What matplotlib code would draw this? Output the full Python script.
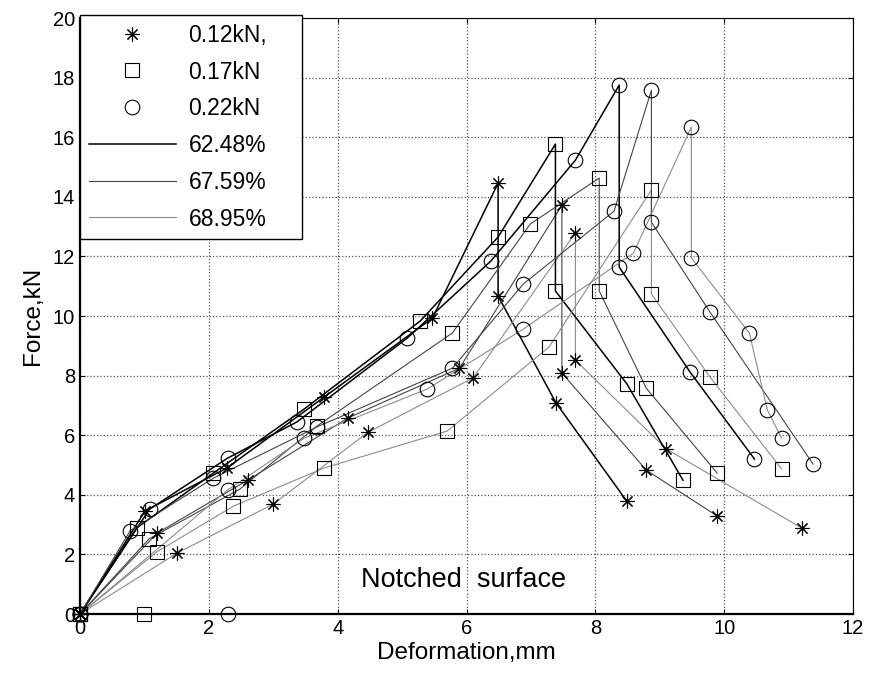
import matplotlib.pyplot as plt
from matplotlib.lines import Line2D

plt.rcParams['font.family'] = ['Liberation Sans', 'DejaVu Sans']

# 0.12kN (asterisk) series
x_012_a = [0, 1.01, 2.28, 3.79, 5.47, 6.49, 6.49, 7.39, 8.49]
y_012_a = [0, 3.46, 4.90, 7.28, 9.93, 14.46, 10.67, 7.08, 3.78]
x_012_b = [0, 1.20, 2.61, 4.16, 5.89, 7.48, 7.48, 8.79, 9.89]
y_012_b = [0, 2.72, 4.50, 6.58, 8.25, 13.72, 8.09, 4.83, 3.29]
x_012_c = [0, 1.51, 3.00, 4.47, 6.10, 7.69, 7.69, 9.10, 11.20]
y_012_c = [0, 2.05, 3.69, 6.10, 7.92, 12.79, 8.52, 5.54, 2.89]

# 0.17kN (square) series
x_017_a = [0, 0.88, 2.07, 3.48, 5.28, 6.49, 7.38, 7.38, 8.49, 9.36]
y_017_a = [0, 2.89, 4.73, 6.88, 9.83, 12.65, 15.77, 10.84, 7.72, 4.49]
x_017_b = [0, 1.07, 2.48, 3.68, 5.78, 6.99, 8.06, 8.06, 8.79, 9.89]
y_017_b = [0, 2.52, 4.19, 6.31, 9.43, 13.09, 14.63, 10.84, 7.58, 4.73]
x_017_c = [0, 1.19, 2.38, 3.79, 5.70, 7.28, 8.87, 8.87, 9.78, 10.89]
y_017_c = [0, 2.08, 3.62, 4.90, 6.14, 8.96, 14.23, 10.74, 7.95, 4.87]

# 0.22kN (circle) series
x_022_a = [0, 1.08, 2.29, 3.37, 5.08, 6.38, 7.69, 8.37, 8.37, 9.47, 10.47]
y_022_a = [0, 3.52, 5.23, 6.45, 9.26, 11.85, 15.23, 17.75, 11.64, 8.12, 5.20]
x_022_b = [0, 0.78, 2.07, 3.68, 5.78, 6.88, 8.29, 8.87, 8.87, 9.78, 11.38]
y_022_b = [0, 2.80, 4.56, 6.28, 8.25, 11.07, 13.52, 17.58, 13.15, 10.13, 5.03]
x_022_c = [0, 2.29, 3.48, 5.39, 6.88, 8.59, 9.49, 9.49, 10.39, 10.67, 10.89]
y_022_c = [0, 4.16, 5.90, 7.55, 9.56, 12.11, 16.34, 11.95, 9.43, 6.85, 5.91]

# stray points on the x axis
x_stray_sq, y_stray_sq = [1.0], [0]
x_stray_ci, y_stray_ci = [2.29], [0]

labels = ['0.12kN,', '0.17kN', '0.22kN', '62.48%', '67.59%', '68.95%']

star = (8, 2, 0)
c_a, c_b, c_c = 'black', '#444444', '#8c8c8c'
lw_a, lw_b, lw_c = 1.1, 0.8, 0.8

fig = plt.figure(figsize=(8.7, 6.83), dpi=100)
ax = fig.add_axes([0.092, 0.101, 0.8885, 0.8726])

def serie(x, y, marker, ms, color, lw):
    ax.plot(x, y, '-', color=color, lw=lw, zorder=2, clip_on=False)
    ax.plot(x, y, linestyle='none', marker=marker, ms=ms, mfc='none',
            mec='black', mew=0.8, zorder=3, clip_on=False)

serie(x_012_a, y_012_a, star, 10, c_a, lw_a)
serie(x_012_b, y_012_b, star, 10, c_b, lw_b)
serie(x_012_c, y_012_c, star, 10, c_c, lw_c)
serie(x_017_a, y_017_a, 's', 10, c_a, lw_a)
serie(x_017_b, y_017_b, 's', 10, c_b, lw_b)
serie(x_017_c, y_017_c, 's', 10, c_c, lw_c)
serie(x_022_a, y_022_a, 'o', 10.5, c_a, lw_a)
serie(x_022_b, y_022_b, 'o', 10.5, c_b, lw_b)
serie(x_022_c, y_022_c, 'o', 10.5, c_c, lw_c)
ax.plot(x_stray_sq, y_stray_sq, 's', ms=10, mfc='none', mec='black', mew=0.8, clip_on=False)
ax.plot(x_stray_ci, y_stray_ci, 'o', ms=10.5, mfc='none', mec='black', mew=0.8, clip_on=False)

ax.text(4.36, 0.9, 'Notched  surface', fontsize=19.5)

ax.set_xlim(0, 12)
ax.set_ylim(0, 20)
ax.set_xticks(range(0, 13, 2))
ax.set_yticks(range(0, 21, 2))
ax.grid(True, linestyle=':', color='#555555', lw=0.9)
ax.tick_params(direction='in', length=3.5, width=0.8, labelsize=14.5,
               top=True, right=True)
for s in ax.spines.values():
    s.set_linewidth(0.8)
ax.spines['left'].set_linewidth(1.6)
ax.spines['bottom'].set_linewidth(1.6)

ax.set_xlabel('Deformation,mm', fontsize=17.5, labelpad=3)
ax.set_ylabel('Force,kN', fontsize=17.5, labelpad=6)

handles = [
    Line2D([], [], ls='none', marker=star, ms=10, mec='black', mew=0.8),
    Line2D([], [], ls='none', marker='s', ms=10, mfc='none', mec='black', mew=0.8),
    Line2D([], [], ls='none', marker='o', ms=10.5, mfc='none', mec='black', mew=0.8),
    Line2D([], [], color=c_a, lw=lw_a),
    Line2D([], [], color=c_b, lw=lw_b),
    Line2D([], [], color=c_c, lw=lw_c),
]
leg = ax.legend(handles, labels, loc='upper left', bbox_to_anchor=(0, 1.005, 0.287, 0),
                mode='expand', fontsize=16.5, handlelength=3.8, handletextpad=0.55,
                labelspacing=0.6, borderpad=0.38, borderaxespad=0, fancybox=False,
                edgecolor='black', framealpha=1, numpoints=1)
leg.get_frame().set_linewidth(1.0)
leg.set_zorder(5)

fig.savefig('out.png', dpi=100)
